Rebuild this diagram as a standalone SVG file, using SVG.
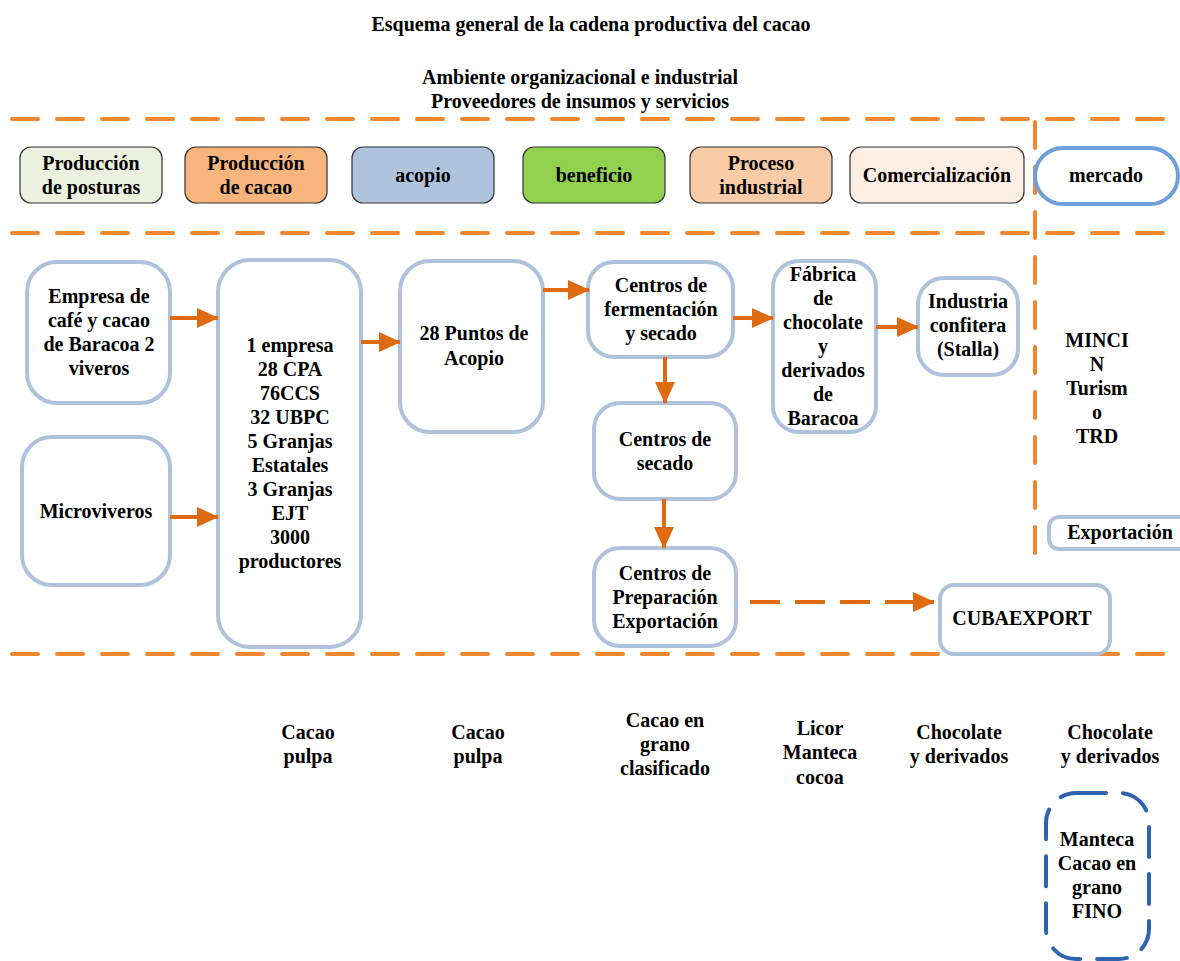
<svg xmlns="http://www.w3.org/2000/svg" width="1180" height="961" viewBox="0 0 1180 961">
<defs>
<style>
text{font-family:"Liberation Serif","Times New Roman",serif;font-weight:bold;font-size:20px;fill:#000;text-anchor:middle}
.sep{stroke:#F0862E;stroke-width:4;fill:none;stroke-dasharray:26 19;stroke-linecap:round}
.hdr{stroke:#333;stroke-width:1.2}
.node{fill:#fff;stroke:#AFC2DC;stroke-width:4}
.arr{stroke:#DE6B12;stroke-width:4;fill:none;marker-end:url(#ah)}
.darr{stroke:#DE6B12;stroke-width:4;fill:none;stroke-dasharray:30 15;marker-end:url(#ah)}
</style>
<marker id="ah" markerUnits="userSpaceOnUse" markerWidth="22" markerHeight="22" viewBox="0 0 22 22" refX="21" refY="11" orient="auto">
<path d="M0,1 L22,11 L0,21 Z" fill="#DE6B12"/>
</marker>
</defs>
<rect width="1180" height="961" fill="#fff"/>
<text x="591" y="31">Esquema general de la cadena productiva del cacao</text>
<text x="580" y="84">Ambiente organizacional e industrial</text>
<text x="580" y="108">Proveedores de insumos y servicios</text>
<g id="separators">
<line class="sep" x1="12" y1="119" x2="1185" y2="119"/>
<line class="sep" x1="12" y1="233" x2="1185" y2="233"/>
<line class="sep" x1="12" y1="654" x2="1185" y2="654"/>
<line class="sep" x1="1035" y1="122" x2="1035" y2="565"/>
</g>
<g id="h1"><rect class="hdr" x="20" y="147" width="142" height="56" rx="11" fill="#EBF1DE"/><text x="91" y="170">Producción</text><text x="91" y="194">de posturas</text></g>
<g id="h2"><rect class="hdr" x="185" y="147" width="142" height="56" rx="11" fill="#F7B47C"/><text x="256" y="170">Producción</text><text x="256" y="194">de cacao</text></g>
<g id="h3"><rect class="hdr" x="352" y="147" width="142" height="56" rx="11" fill="#B0C3DC"/><text x="423" y="182">acopio</text></g>
<g id="h4"><rect class="hdr" x="523" y="147" width="142" height="56" rx="11" fill="#92D050"/><text x="594" y="182">beneficio</text></g>
<g id="h5"><rect class="hdr" x="690" y="147" width="142" height="56" rx="11" fill="#F9CBA6"/><text x="761" y="170">Proceso</text><text x="761" y="194">industrial</text></g>
<g id="h6"><rect class="hdr" x="850" y="147" width="174" height="56" rx="11" fill="#FDEEE4"/><text x="937" y="182">Comercialización</text></g>
<g id="h7"><rect x="1035" y="148" width="143" height="56" rx="28" fill="#fff" stroke="#6F9FDA" stroke-width="4"/><text x="1106" y="182">mercado</text></g>

<g id="n1"><rect class="node" x="27" y="262" width="143" height="141" rx="30"/><text x="99" y="303">Empresa de</text><text x="99" y="327">café y cacao</text><text x="99" y="351">de Baracoa 2</text><text x="99" y="375">viveros</text></g>
<g id="n2"><rect class="node" x="22" y="437" width="148" height="148" rx="30"/><text x="96" y="518">Microviveros</text></g>
<g id="n3"><rect class="node" x="218" y="260" width="143" height="387" rx="32"/>
<text x="290" y="352">1 empresa</text><text x="290" y="376">28 CPA</text><text x="290" y="400">76CCS</text><text x="290" y="424">32 UBPC</text><text x="290" y="448">5 Granjas</text><text x="290" y="472">Estatales</text><text x="290" y="496">3 Granjas</text><text x="290" y="520">EJT</text><text x="290" y="544">3000</text><text x="290" y="568">productores</text></g>
<g id="n4"><rect class="node" x="400" y="261" width="143" height="171" rx="30"/><text x="474" y="340">28 Puntos de</text><text x="474" y="365">Acopio</text></g>
<g id="n5"><rect class="node" x="588" y="262" width="145" height="95" rx="26"/><text x="661" y="292">Centros de</text><text x="661" y="316">fermentación</text><text x="661" y="340">y secado</text></g>
<g id="n6"><rect class="node" x="594" y="403" width="142" height="96" rx="26"/><text x="665" y="446">Centros de</text><text x="665" y="470">secado</text></g>
<g id="n7"><rect class="node" x="594" y="548" width="142" height="98" rx="26"/><text x="665" y="580">Centros de</text><text x="665" y="604">Preparación</text><text x="665" y="628">Exportación</text></g>
<g id="n8"><rect class="node" x="773" y="261" width="103" height="171" rx="26"/><text x="823" y="281">Fábrica</text><text x="823" y="305">de</text><text x="823" y="329">chocolate</text><text x="823" y="353">y</text><text x="823" y="377">derivados</text><text x="823" y="401">de</text><text x="823" y="425">Baracoa</text></g>
<g id="n9"><rect class="node" x="918" y="278" width="100" height="97" rx="26"/><text x="968" y="308">Industria</text><text x="968" y="332">confitera</text><text x="968" y="356">(Stalla)</text></g>
<g id="n10"><rect class="node" x="940" y="585" width="170" height="69" rx="14"/><text x="1022" y="625">CUBAEXPORT</text></g>
<g id="n11"><rect class="node" x="1049" y="517" width="140" height="32" rx="10"/><text x="1120" y="539">Exportación</text></g>
<g id="n12"><text x="1097" y="347">MINCI</text><text x="1097" y="371">N</text><text x="1097" y="395">Turism</text><text x="1097" y="419">o</text><text x="1097" y="443">TRD</text></g>

<g id="connectors">
<line class="arr" x1="170" y1="318" x2="218" y2="318"/>
<line class="arr" x1="170" y1="517" x2="218" y2="517"/>
<line class="arr" x1="361" y1="342" x2="400" y2="342"/>
<line class="arr" x1="543" y1="290" x2="589" y2="290"/>
<line class="arr" x1="733" y1="318" x2="773" y2="318"/>
<line class="arr" x1="876" y1="327" x2="918" y2="327"/>
<line class="arr" x1="665" y1="357" x2="665" y2="403"/>
<line class="arr" x1="664" y1="499" x2="664" y2="548"/>
<line class="darr" x1="750" y1="602" x2="934" y2="602"/>
</g>

<g id="products">
<text x="308" y="739">Cacao</text><text x="308" y="763">pulpa</text>
<text x="478" y="739">Cacao</text><text x="478" y="763">pulpa</text>
<text x="665" y="727">Cacao en</text><text x="665" y="751">grano</text><text x="665" y="775">clasificado</text>
<text x="820" y="735">Licor</text><text x="820" y="759">Manteca</text><text x="820" y="784">cocoa</text>
<text x="959" y="739">Chocolate</text><text x="959" y="763">y derivados</text>
<text x="1110" y="739">Chocolate</text><text x="1110" y="763">y derivados</text>
</g>
<g id="fino"><rect x="1046" y="793" width="103" height="166" rx="30" fill="#fff" stroke="#2E63AE" stroke-width="4" stroke-dasharray="30 17" stroke-linecap="round"/><text x="1097" y="846">Manteca</text><text x="1097" y="870">Cacao en</text><text x="1097" y="894">grano</text><text x="1097" y="918">FINO</text></g>
</svg>
